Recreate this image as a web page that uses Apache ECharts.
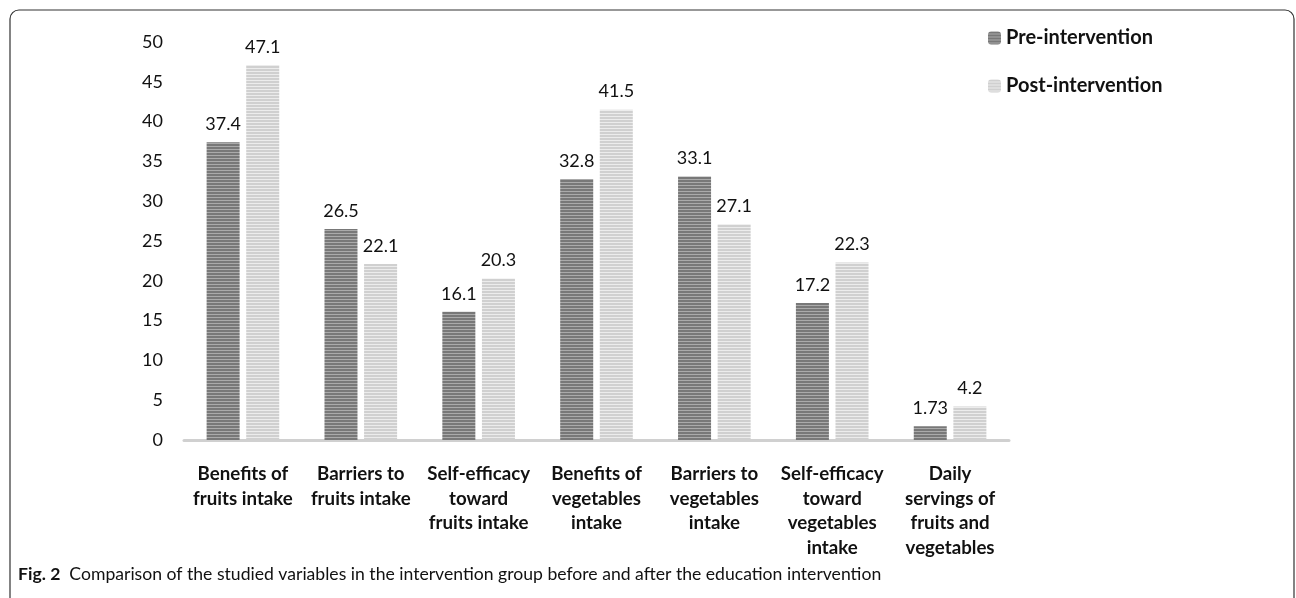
<!DOCTYPE html>
<html>
<head>
<meta charset="utf-8">
<script src="https://cdn.jsdelivr.net/npm/echarts@6/dist/echarts.min.js"></script>
<style>
html,body{margin:0;padding:0;background:#fff;}
#c{width:1296px;height:598px;}
</style>
</head>
<body>
<div id="c"></div>
<script>
const categories = [
  "Benefits of\nfruits intake",
  "Barriers to\nfruits intake",
  "Self-efficacy\ntoward\nfruits intake",
  "Benefits of\nvegetables\nintake",
  "Barriers to\nvegetables\nintake",
  "Self-efficacy\ntoward\nvegetables\nintake",
  "Daily\nservings of\nfruits and\nvegetables"
];
const preValues = [37.4, 26.5, 16.1, 32.8, 33.1, 17.2, 1.73];
const postValues = [47.1, 22.1, 20.3, 41.5, 27.1, 22.3, 4.2];
const seriesNames = ["Pre-intervention", "Post-intervention"];
const yTicks = [0, 5, 10, 15, 20, 25, 30, 35, 40, 45, 50];
const captionBold = "Fig. 2";
const captionText = "Comparison of the studied variables in the intervention group before and after the education intervention";

function stripes(c1, c2) {
  const cv = document.createElement('canvas');
  cv.width = 4; cv.height = 3;
  const ctx = cv.getContext('2d');
  ctx.fillStyle = c1; ctx.fillRect(0, 0, 4, 2);
  ctx.fillStyle = c2; ctx.fillRect(0, 2, 4, 1);
  return { image: cv, repeat: 'repeat' };
}

const chart = echarts.init(document.getElementById('c'));
const font = "Lato, 'Open Sans', sans-serif";
chart.setOption({
  animation: false,
  backgroundColor: '#fff',
  grid: { left: 184, right: 287, top: 42, bottom: 158 },
  legend: {
    orient: 'vertical',
    left: 983, top: 23,
    itemWidth: 13, itemHeight: 13, itemGap: 28,
    textStyle: { fontFamily: font, fontSize: 20, fontWeight: 'bold', color: '#111' },
    data: seriesNames
  },
  xAxis: {
    type: 'category',
    data: categories,
    axisLine: { lineStyle: { color: '#d0d0d0', width: 3 } },
    axisTick: { show: false },
    axisLabel: {
      interval: 0, margin: 22,
      fontFamily: font, fontSize: 18.7, fontWeight: 'bold', color: '#111',
      lineHeight: 24.5
    }
  },
  yAxis: {
    type: 'value',
    min: 0, max: 50, interval: 5,
    axisLine: { show: false },
    axisTick: { show: false },
    splitLine: { show: false },
    axisLabel: { fontFamily: font, fontSize: 18, color: '#111', margin: 21 }
  },
  series: [
    {
      name: seriesNames[0], type: 'bar', data: preValues,
      barWidth: 33, barGap: '20%',
      itemStyle: { color: stripes('#787878', '#aaaaaa') },
      label: { show: true, position: 'top', distance: 9, fontFamily: font, fontSize: 18, color: '#111' }
    },
    {
      name: seriesNames[1], type: 'bar', data: postValues,
      barWidth: 33,
      itemStyle: { color: stripes('#d0d0d0', '#ececec') },
      label: { show: true, position: 'top', distance: 9, fontFamily: font, fontSize: 18, color: '#111' }
    }
  ],
  graphic: [
    {
      type: 'rect',
      shape: { x: 10, y: 10, width: 1284, height: 600, r: 9 },
      style: { fill: 'none', stroke: '#333', lineWidth: 1.2 },
      silent: true
    },
    {
      type: 'text', left: 18, top: 565,
      style: {
        text: '{b|' + captionBold + '}  ' + captionText,
        fontFamily: font, fontSize: 17.6, fill: '#111',
        rich: { b: { fontWeight: 'bold', fontFamily: font, fontSize: 17.6, fill: '#111' } }
      }
    }
  ]
});
</script>
</body>
</html>
